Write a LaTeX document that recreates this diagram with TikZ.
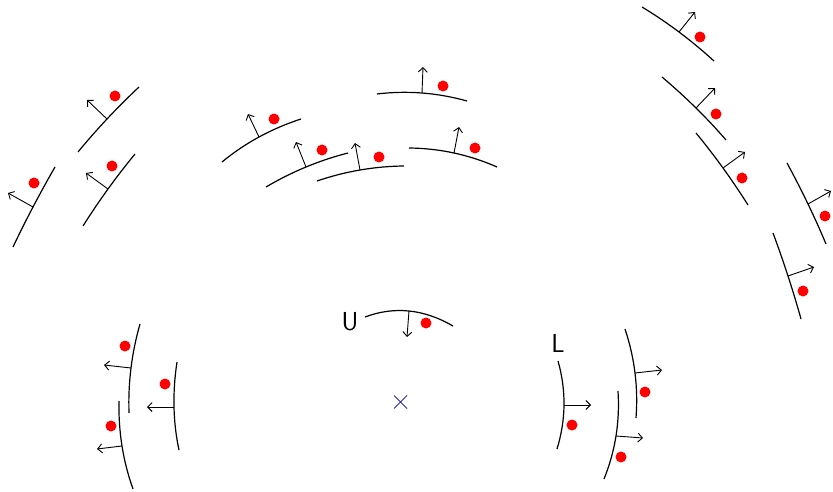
\documentclass[tikz,border=0pt]{standalone}
\usetikzlibrary{arrows.meta,calc}
\definecolor{markblue}{RGB}{45,45,175}
\tikzset{
  arcline/.style={line width=1.2pt, black},
  normalvec/.style={line width=0.9pt, black, -{Straight Barb[length=4.5pt,width=9pt]}},
  hit/.style={fill=red},
  lbl/.style={font=\fontsize{26}{28}\selectfont\sffamily, inner sep=0pt}
}
% one detector segment: start, hit position, base of normal, tip of normal, end
% the segment is a parabolic arc through start, base and end
\newcommand\detseg[5]{%
  \coordinate (sA) at #1;\coordinate (sB) at #3;\coordinate (sC) at #5;%
  \coordinate (sK) at ($2*(sB)-0.5*(sA)-0.5*(sC)$);%
  \draw[arcline] (sA) .. controls ($(sA)!2/3!(sK)$) and ($(sC)!2/3!(sK)$) .. (sC);%
  \draw[normalvec] (sB) -- #4;%
  \fill[hit] #2 circle[radius=5.5pt];%
}
\begin{document}
\begin{tikzpicture}[x=1pt,y=-1pt]
\useasboundingbox (0,0) rectangle (833,492);
% upper-left group
\detseg{(78,152)}{(115,96)}{(107,119)}{(87,100)}{(139,87)}
\detseg{(83,226)}{(112,166)}{(108,189)}{(86,173)}{(135,154)}
\detseg{(13,247)}{(34,183)}{(33,207)}{(8,193)}{(55,167)}
% upper-middle group
\detseg{(222,162)}{(274,119)}{(259,137)}{(248,114)}{(301,119)}
\detseg{(266,187)}{(322,150)}{(306,167)}{(296,142)}{(348,153)}
\detseg{(317,181)}{(379,157)}{(360,170)}{(355,143)}{(404,166)}
\detseg{(377,94)}{(443,86)}{(422,93)}{(423,67)}{(467,101)}
\detseg{(409,148)}{(475,148)}{(454,153)}{(459,127)}{(497,167)}
% upper-right group
\detseg{(642,7)}{(700,37)}{(679,32)}{(695,12)}{(714,61)}
\detseg{(662,77)}{(716,114)}{(696,108)}{(715,88)}{(726,140)}
\detseg{(696,133)}{(742,178)}{(723,168)}{(745,152)}{(748,205)}
\detseg{(787,163)}{(825,216)}{(808,204)}{(831,191)}{(826,244)}
\detseg{(773,233)}{(803,291)}{(788,276)}{(814,267)}{(801,319)}
% lower-left group
\detseg{(140,324)}{(125,346)}{(131,368)}{(104,365)}{(129,413)}
\detseg{(177,362)}{(165,384)}{(174,407)}{(147,407)}{(179,450)}
\detseg{(119,401)}{(111,426)}{(122,446)}{(97,449)}{(133,489)}
% lower-right group
\detseg{(625,329)}{(645,392)}{(635,373)}{(662,370)}{(636,418)}
\detseg{(618,391)}{(621,457)}{(616,436)}{(643,438)}{(604,479)}
% labelled segments
\detseg{(558,361)}{(572,425)}{(564,405)}{(591,405)}{(557,449)}
\detseg{(365,317)}{(426,323)}{(409,311)}{(407,337)}{(453,326)}
\node[lbl] (labU) at (350,322) {U};
\node[lbl] (labL) at (558,343) {L};
% centre mark
\coordinate (ctr) at (400.5,402);
\draw[markblue, line width=1pt] ([shift={(-6.5,-6.5)}]ctr) -- ([shift={(6.5,6.5)}]ctr)
      ([shift={(-6.5,6.5)}]ctr) -- ([shift={(6.5,-6.5)}]ctr);
\end{tikzpicture}
\end{document}
